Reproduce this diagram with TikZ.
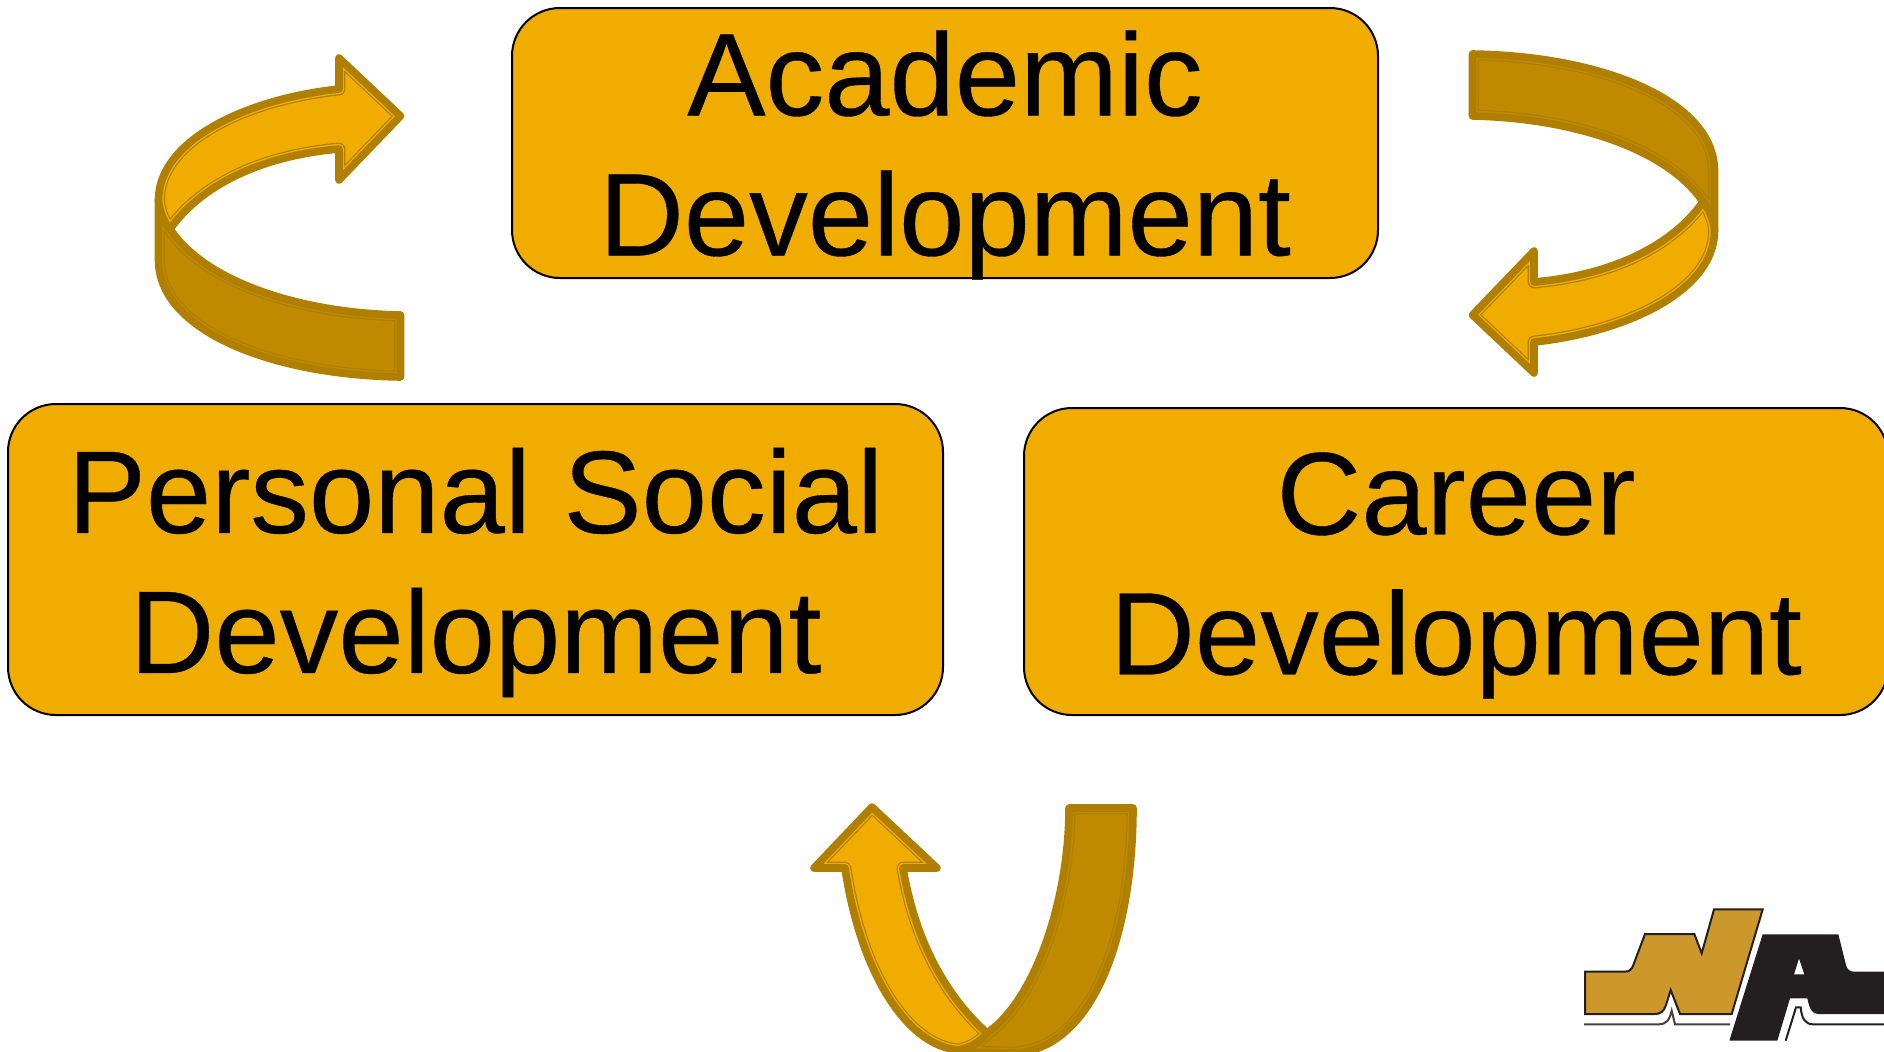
\documentclass[tikz,border=0pt]{standalone}
\usepackage{fontspec}
\setmainfont{Liberation Sans}
\newfontfamily\boxfont[FakeBold=0.3]{Liberation Sans}
\definecolor{gold}{HTML}{F0AD00}
\definecolor{golddark}{HTML}{BF8A00}
\definecolor{goldedge}{HTML}{B07F00}
\definecolor{logogold}{HTML}{CC982B}
\definecolor{logoblack}{HTML}{231F20}
\tikzset{
  devbox/.style={draw=black,line width=1pt,fill=gold,rounded corners=24pt,inner sep=0pt},
  devtext/.style={align=center,inner sep=0pt,font=\boxfont\fontsize{58.7}{70}\selectfont},
  ribbonedge/.style={draw=goldedge,line width=3.8pt,line join=round,line cap=round},
}
\newcommand{\ribbon}[2]{%
  \fill[#1] #2;
  \begin{scope}
    \clip #2;
    \draw[goldedge,line width=6.4pt,line join=round] #2;
    \draw[#1,line width=5.2pt,line join=round] #2;
  \end{scope}
  \draw[ribbonedge] #2;
}
\newcommand{\curlarrow}{%
  \ribbon{golddark}{(158.5,200) -- (158.5,260) .. controls (158.5,330) and (270,375) .. (400.5,377) -- (400.5,315)
     .. controls (300,313) and (205,282) .. (170,229) .. controls (164,222) and (159.5,212) .. (158.5,200) -- cycle}
  \ribbon{gold}{(400.5,116) -- (339,58) -- (339,89) .. controls (245,99) and (158.5,141) .. (158.5,200)
     .. controls (159.5,212) and (164,222) .. (170,229) .. controls (205,180) and (270,155) .. (339,149)
     -- (339,180) -- cycle}
}
\begin{document}
\begin{tikzpicture}[x=0.5pt,y=-0.5pt]
\useasboundingbox (0,0) rectangle (1884,1051);
\clip (0,0) rectangle (1884,1051);
% boxes
\node[devbox,minimum width=433pt,minimum height=135pt] (academic) at (945,143) {};
\node[devtext] (academictext) at (945,155) {Academic\\Development};
\node[devbox,minimum width=467.5pt,minimum height=155.5pt] (personal) at (475.5,559.5) {};
\node[devtext] (personaltext) at (475.5,572.5) {Personal Social\\Development};
\node[devbox,minimum width=432pt,minimum height=153.5pt] (career) at (1456,561.5) {};
\node[devtext] (careertext) at (1456,575.5) {Career\\Development};
% left curved arrow
\begin{scope}
  \curlarrow
\end{scope}
% right curved arrow (point reflection)
\begin{scope}[shift={(1873,431)},rotate=180]
  \curlarrow
\end{scope}
% bottom arrow
\ribbon{golddark}{(1069,808) -- (1133,808) .. controls (1133,930) and (1095,1053) .. (1010,1053) -- (958,1052)
   .. controls (970,1048) and (980,1042) .. (987,1033) .. controls (1035,1000) and (1069,900) .. (1069,808) -- cycle}
\ribbon{gold}{(872,807) -- (814,868) -- (845,868) .. controls (860,970) and (905,1045) .. (958,1050)
   .. controls (970,1048) and (980,1042) .. (987,1033) .. controls (945,995) and (915,940) .. (903,868)
   -- (937,868) -- cycle}
% logo
\begin{scope}[xshift=780pt,yshift=-445pt,x=0.16667pt,y=-0.16667pt]
  \draw[logoblack,line width=1pt,fill=logogold,line join=miter]
    (75,245) -- (195,245) .. controls (208,245) and (215,238) .. (220,225) -- (255,132) -- (403,132) -- (425,190)
    -- (462,58) -- (608,58) -- (515,372) -- (360,372) -- (332,300) -- (318,345)
    .. controls (312,365) and (300,372) .. (285,372) -- (75,372) -- cycle;
  \draw[logoblack!85,line width=1pt]
    (72,403) -- (295,403) .. controls (320,403) and (328,390) .. (335,362) -- (345,403) -- (510,403);
  \fill[logoblack,even odd rule]
    (608,133) -- (835,133) -- (858,225) .. controls (862,240) and (870,245) .. (885,245) -- (980,245) -- (980,372)
    -- (775,372) .. controls (755,372) and (748,355) .. (742,325) -- (690,325) -- (652,452) -- (508,452) -- cycle
    (717,205) -- (733,253) -- (702,253) -- cycle;
  \draw[logoblack,line width=1pt]
    (677,452) -- (708,352) -- (722,352) .. controls (725,385) and (735,403) .. (760,403) -- (980,403);
\end{scope}
\end{tikzpicture}
\end{document}
